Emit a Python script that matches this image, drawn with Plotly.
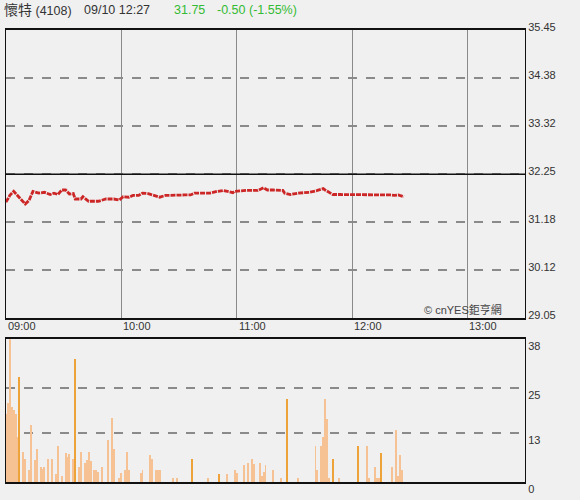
import plotly.graph_objects as go

# price: minutes after 09:00 and price
price_min = [0, 2, 4, 6, 10, 12, 14, 17, 20, 23, 25, 27, 29, 31, 33, 35, 36, 39, 40, 43,
             48, 52, 56, 59, 61, 64, 66, 69, 71, 74, 78, 80, 83, 87, 93, 96, 98, 102, 106, 110,
             113, 118, 119, 125, 131, 134, 136, 139, 144, 145, 148, 152, 158, 162, 165, 166, 170, 174, 190, 200,
             202, 204, 207]
price_val = [31.63, 31.78, 31.87, 31.78, 31.59, 31.67, 31.87, 31.83, 31.85, 31.80, 31.83, 31.80, 31.90, 31.90,
             31.81, 31.82, 31.70, 31.70, 31.75, 31.65, 31.65, 31.70, 31.70, 31.68, 31.75, 31.74, 31.78, 31.78,
             31.83, 31.82, 31.76, 31.74, 31.78, 31.79, 31.79, 31.79, 31.83, 31.83, 31.83, 31.87, 31.89, 31.84,
             31.87, 31.89, 31.89, 31.95, 31.90, 31.90, 31.89, 31.83, 31.80, 31.83, 31.85, 31.89, 31.93, 31.90,
             31.80, 31.80, 31.80, 31.79, 31.78, 31.79, 31.75]
prev_close = 32.25

# volume: minutes after 09:00, lots, 1 = darker bar
vol_min = [0, 1, 2, 3, 4, 5, 6, 7, 9, 10, 12, 13, 15, 16, 18, 19, 20, 22, 24, 26,
           27, 29, 31, 32, 33, 35, 36, 38, 39, 41, 42, 43, 44, 46, 47, 48, 50, 53, 55, 56,
           59, 60, 62, 63, 64, 70, 71, 75, 76, 78, 79, 80, 87, 89, 97, 105, 111, 115, 119, 120,
           124, 126, 128, 129, 132, 133, 134, 135, 139, 143, 146, 152, 161, 162, 164, 165, 166, 167, 168, 170,
           173, 183, 188, 189, 192, 193, 194, 195, 201, 203, 204, 205, 206]
vol_val = [18, 21, 38, 20, 19, 18, 12, 28, 8, 6, 3, 15, 5.7, 8.8, 4, 3.5, 4, 6, 6, 2,
           9.6, 1.5, 7.6, 6.6, 7.3, 6, 32.7, 4, 8, 5, 5.7, 8, 5.5, 3, 3, 2.5, 4, 11, 17, 8.8,
           1, 2.4, 3, 8, 3, 2.2, 3, 7, 6, 3, 3, 3, 1, 1, 6, 1, 2, 2, 3, 2.4,
           4.4, 5, 6, 4.8, 5, 1.5, 2.5, 4.4, 3, 1, 22, 1, 9.6, 3, 9.6, 11.8, 22, 16.7, 1, 6,
           1, 9.6, 9.6, 1, 4, 1, 1, 7.6, 4, 13.8, 1.5, 7, 3]
vol_dark = [0, 0, 0, 0, 0, 0, 0, 1, 0, 0, 0, 0, 0, 0, 0, 0, 0, 0, 0, 0,
            0, 0, 0, 0, 0, 0, 1, 0, 0, 0, 0, 0, 0, 0, 0, 0, 0, 0, 0, 0,
            0, 0, 0, 0, 0, 0, 0, 0, 0, 0, 0, 0, 0, 0, 1, 0, 1, 0, 0, 0,
            0, 0, 0, 0, 0, 0, 0, 0, 0, 0, 1, 0, 0, 0, 0, 0, 0, 0, 0, 1,
            0, 1, 0, 0, 0, 0, 0, 1, 0, 0, 0, 0, 0]

price_ticks = [29.05, 30.12, 31.18, 32.25, 33.32, 34.38, 35.45]
vol_ticks = [0, 13, 25, 38]
hour_min = [0, 60, 120, 180, 240]
hour_labels = ["09:00", "10:00", "11:00", "12:00", "13:00"]

FONT = "Liberation Sans, Arial, Noto Sans CJK TC"
TEXT = "#333333"
GRID = "#8a8a8a"
W, H = 580, 500
ML, MR, MT, MB = 5, 55, 30, 14


def paper_x(px):
    return (px - ML) / (W - ML - MR)


def paper_y(py):
    return (H - MB - py) / (H - MT - MB)


fig = go.Figure()

fig.add_trace(
    go.Scatter(
        x=price_min, y=price_val, mode="lines",
        line=dict(color="#cc2626", width=2.8, dash="5px,1px"),
        xaxis="x", yaxis="y", hoverinfo="skip",
    )
)
fig.add_trace(
    go.Bar(
        x=vol_min, y=vol_val, width=0.5,
        marker=dict(color=["#eea23a" if d else "#f7c293" for d in vol_dark], line_width=0),
        xaxis="x2", yaxis="y2", hoverinfo="skip",
    )
)

axis_common = dict(showline=True, mirror=True, linecolor="#111111", zeroline=False)

fig.update_layout(
    width=W, height=H,
    paper_bgcolor="#f0f0f0", plot_bgcolor="#f0f0f0",
    margin=dict(l=ML, r=MR, t=MT, b=MB),
    showlegend=False,
    font=dict(family=FONT, size=11, color=TEXT),
    xaxis=dict(
        domain=[0, 1], range=[0, 270], tickvals=hour_min[1:], showticklabels=False,
        showgrid=True, gridcolor=GRID, gridwidth=1, ticks="", anchor="y",
        linewidth=1.5, **axis_common,
    ),
    yaxis=dict(
        domain=[paper_y(321), 1], range=[price_ticks[0], price_ticks[-1]], tickvals=price_ticks,
        ticktext=[f"{v:.2f}" for v in price_ticks], side="right", showgrid=True,
        gridcolor=GRID, gridwidth=1.5, griddash="dash", ticks="", ticklabelshift=-3,
        anchor="x", linewidth=1, **axis_common,
    ),
    xaxis2=dict(
        domain=[0, 1], range=[0, 270], showticklabels=False, showgrid=False, ticks="",
        anchor="y2", linewidth=2, **axis_common,
    ),
    yaxis2=dict(
        domain=[0, paper_y(342)], range=[0, 38], tickvals=vol_ticks, side="right", showgrid=True,
        gridcolor=GRID, gridwidth=1.5, griddash="dash", ticks="", ticklabelshift=7,
        anchor="x2", linewidth=1, **axis_common,
    ),
    bargap=0,
)

# previous close reference line
fig.add_shape(
    type="line", xref="x domain", yref="y", x0=0, x1=1, y0=prev_close, y1=prev_close,
    line=dict(color="#111111", width=1.5),
)

for m, lab in zip(hour_min, hour_labels):
    fig.add_annotation(
        x=m, xref="x", y=0, yref="y domain", text=lab, showarrow=False,
        xanchor="left", yanchor="top", xshift=0, yshift=0,
        font=dict(size=11, color=TEXT),
    )

fig.add_annotation(
    x=paper_x(504), xref="paper", y=0, yref="y domain", text="© cnYES鉅亨網", showarrow=False,
    xanchor="right", yanchor="bottom", font=dict(size=11, color="#444444"),
)

header = [
    (1, "<span style='font-size:14px'>懷特</span> (4108)", TEXT),
    (81, "09/10 12:27", TEXT),
    (171, "31.75", "#33bb33"),
    (214, "-0.50 (-1.55%)", "#33bb33"),
]
for px, txt, col in header:
    fig.add_annotation(
        x=paper_x(px), xref="paper", y=paper_y(10), yref="paper", text=txt, showarrow=False,
        xanchor="left", yanchor="middle", font=dict(size=12.5, color=col),
    )

fig.write_html(
    "out.html",
    config={"displayModeBar": False},
    post_script="document.body.style.margin='0';",
)
